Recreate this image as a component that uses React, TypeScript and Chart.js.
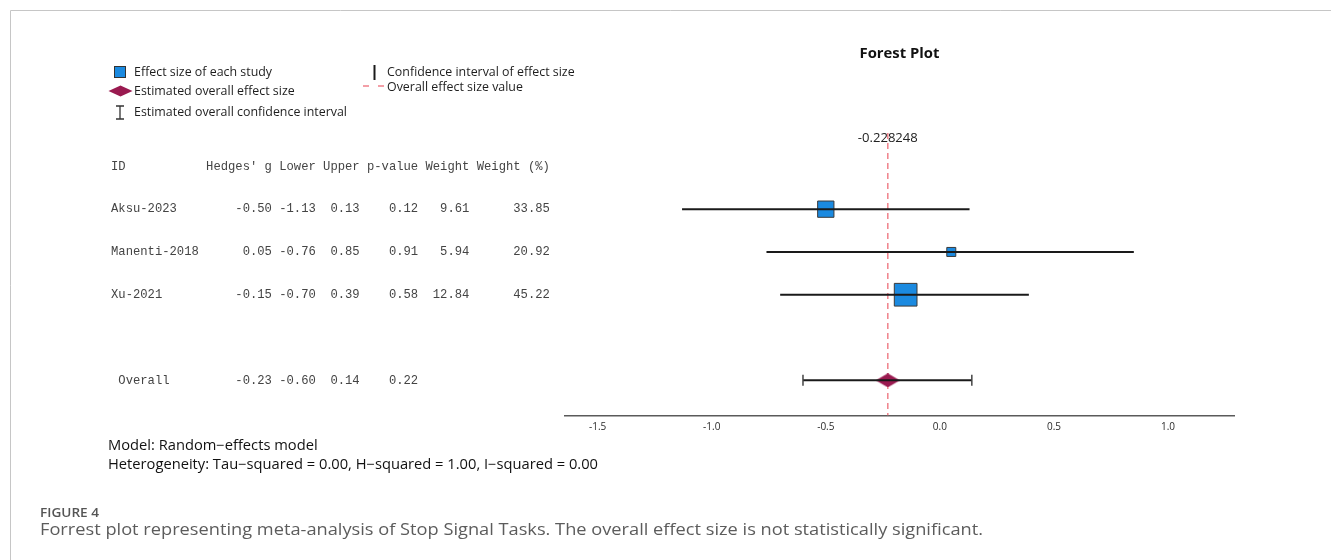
import React, { useEffect, useRef } from 'react';
import { Chart, registerables } from 'chart.js';

Chart.register(...registerables);

// ---------- data ----------
const STUDIES = ['Aksu-2023', 'Manenti-2018', 'Xu-2021'];
const HEDGES_G = [-0.5, 0.05, -0.15];
const LOWER = [-1.13, -0.76, -0.7];
const UPPER = [0.13, 0.85, 0.39];
const P_VALUES = [0.12, 0.91, 0.58];
const WEIGHTS = [9.61, 5.94, 12.84];
const WEIGHT_PCT = [33.85, 20.92, 45.22];
const OVERALL_LABEL = 'Overall';
const OVERALL_G = -0.228248;
const OVERALL_LOWER = -0.6;
const OVERALL_UPPER = 0.14;
const OVERALL_P = 0.22;
const X_TICKS = [-1.5, -1.0, -0.5, 0.0, 0.5, 1.0];
const TABLE_HEADER = ['ID', "Hedges' g", 'Lower', 'Upper', 'p-value', 'Weight', 'Weight (%)'];

// ---------- layout (rows on the y scale) ----------
const HEADER_ROW = -1;
const OVERALL_ROW = 4;
const Y_MIN = -1.78;
const Y_MAX = 4.82;
const X_MIN = -1.643;
const X_MAX = 1.289;

const BLUE = '#1b8ae0';
const MAROON = '#9a1a50';
const RED_DASH = '#f0808a';

function makeDiamond(w: number, h: number, color: string) {
  const c = document.createElement('canvas');
  c.width = w;
  c.height = h;
  const g = c.getContext('2d')!;
  g.fillStyle = color;
  g.beginPath();
  g.moveTo(0, h / 2);
  g.lineTo(w / 2, 0);
  g.lineTo(w, h / 2);
  g.lineTo(w / 2, h);
  g.closePath();
  g.fill();
  return c;
}

function measure(ctx: CanvasRenderingContext2D, font: string, s: string) {
  ctx.save();
  ctx.font = font;
  const w = ctx.measureText(s).width;
  ctx.restore();
  return w;
}

function txt(
  ctx: CanvasRenderingContext2D,
  s: string,
  x: number,
  y: number,
  font: string,
  color: string,
  align: CanvasTextAlign = 'left',
  sx = 1
) {
  ctx.save();
  ctx.font = font;
  ctx.fillStyle = color;
  ctx.textBaseline = 'middle';
  ctx.textAlign = align;
  ctx.translate(x, y);
  ctx.scale(sx, 1);
  ctx.fillText(s, 0, 0);
  ctx.restore();
}

const f2 = (v: number) => v.toFixed(2);

const decorPlugin = {
  id: 'forestDecor',
  beforeDatasetsDraw(chart: any) {
    const ctx: CanvasRenderingContext2D = chart.ctx;
    const xs = chart.scales.x;
    const ys = chart.scales.y;

    // frame
    ctx.save();
    ctx.strokeStyle = '#c6c6c6';
    ctx.lineWidth = 1;
    ctx.beginPath();
    ctx.moveTo(10.5, 560);
    ctx.lineTo(10.5, 10.5);
    ctx.lineTo(1331, 10.5);
    ctx.stroke();
    ctx.restore();

    // legend
    const lf = "12.5px 'Open Sans'";
    const lsx = 213 / measure(ctx, lf, 'Estimated overall confidence interval');
    const lc = '#1e1e1e';
    ctx.save();
    ctx.fillStyle = BLUE;
    ctx.strokeStyle = '#333';
    ctx.lineWidth = 1;
    ctx.fillRect(114.5, 66.5, 11, 11);
    ctx.strokeRect(114.5, 66.5, 11, 11);
    ctx.fillStyle = MAROON;
    ctx.beginPath();
    ctx.moveTo(108.5, 91);
    ctx.lineTo(120.5, 85.5);
    ctx.lineTo(132.5, 91);
    ctx.lineTo(120.5, 96.5);
    ctx.closePath();
    ctx.fill();
    ctx.strokeStyle = '#333';
    ctx.lineWidth = 1.3;
    ctx.beginPath();
    ctx.moveTo(120, 106);
    ctx.lineTo(120, 119);
    ctx.moveTo(116, 106);
    ctx.lineTo(124, 106);
    ctx.moveTo(116, 119);
    ctx.lineTo(124, 119);
    ctx.stroke();
    ctx.strokeStyle = '#1a1a1a';
    ctx.lineWidth = 2;
    ctx.beginPath();
    ctx.moveTo(374.5, 65);
    ctx.lineTo(374.5, 80);
    ctx.stroke();
    ctx.strokeStyle = RED_DASH;
    ctx.lineWidth = 1.5;
    ctx.beginPath();
    ctx.moveTo(363, 86);
    ctx.lineTo(369, 86);
    ctx.moveTo(378, 86);
    ctx.lineTo(384, 86);
    ctx.stroke();
    ctx.restore();
    txt(ctx, 'Effect size of each study', 134, 72, lf, lc, 'left', lsx);
    txt(ctx, 'Estimated overall effect size', 134, 91, lf, lc, 'left', lsx);
    txt(ctx, 'Estimated overall confidence interval', 134, 112, lf, lc, 'left', lsx);
    txt(ctx, 'Confidence interval of effect size', 387, 72, lf, lc, 'left', lsx);
    txt(ctx, 'Overall effect size value', 387, 87, lf, lc, 'left', lsx);

    // title
    const tf = "bold 15px 'Open Sans'";
    const tsx = 80 / measure(ctx, tf, 'Forest Plot');
    txt(ctx, 'Forest Plot', (chart.chartArea.left + chart.chartArea.right) / 2, 54, tf, '#111', 'center', tsx);

    // overall value label
    const vf = "12px 'Open Sans'";
    const vs = String(OVERALL_G);
    const vsx = 60 / measure(ctx, vf, vs);
    txt(ctx, vs, xs.getPixelForValue(OVERALL_G), 139, vf, '#222', 'center', vsx);

    // table
    const mf = "12.2px 'Liberation Mono'";
    const mc = '#444';
    const x0 = 111;
    const header =
      TABLE_HEADER[0].padEnd(13) + TABLE_HEADER.slice(1).join(' ');
    txt(ctx, header, x0, ys.getPixelForValue(HEADER_ROW), mf, mc);
    STUDIES.forEach((s, i) => {
      const line =
        s.padEnd(13) +
        f2(HEDGES_G[i]).padStart(9) +
        ' ' +
        f2(LOWER[i]).padStart(5) +
        ' ' +
        f2(UPPER[i]).padStart(5) +
        ' ' +
        f2(P_VALUES[i]).padStart(7) +
        ' ' +
        f2(WEIGHTS[i]).padStart(6) +
        ' ' +
        f2(WEIGHT_PCT[i]).padStart(10);
      txt(ctx, line, x0, ys.getPixelForValue(i), mf, mc);
    });
    const oline =
      (' ' + OVERALL_LABEL).padEnd(13) +
      f2(OVERALL_G).padStart(9) +
      ' ' +
      f2(OVERALL_LOWER).padStart(5) +
      ' ' +
      f2(OVERALL_UPPER).padStart(5) +
      ' ' +
      f2(OVERALL_P).padStart(7);
    txt(ctx, oline, x0, ys.getPixelForValue(OVERALL_ROW), mf, mc);

    // model text
    const hf = "14px 'Open Sans'";
    const het = 'Heterogeneity: Tau\u2212squared = 0.00, H\u2212squared = 1.00, I\u2212squared = 0.00';
    const hsx = 490 / measure(ctx, hf, het);
    txt(ctx, 'Model: Random\u2212effects model', 108, 446, hf, '#111', 'left', hsx);
    txt(ctx, het, 108, 465, hf, '#111', 'left', hsx);

    // caption
    const ff = "600 12px 'Open Sans'";
    const fsx = 59 / measure(ctx, ff, 'FIGURE 4');
    txt(ctx, 'FIGURE 4', 40, 514, ff, '#555', 'left', fsx);
    const cf = "16px 'Open Sans'";
    const cap =
      'Forrest plot representing meta-analysis of Stop Signal Tasks. The overall effect size is not statistically significant.';
    const csx = 943 / measure(ctx, cf, cap);
    txt(ctx, cap, 40, 530, cf, '#5c5c5c', 'left', csx);
  },
};

export default function App() {
  const ref = useRef<HTMLCanvasElement | null>(null);

  useEffect(() => {
    if (!ref.current) return;
    const diamond = makeDiamond(24, 14, MAROON);

    const ciSets = STUDIES.map((s, i) => ({
      label: s + ' CI',
      data: [
        { x: LOWER[i], y: i },
        { x: UPPER[i], y: i },
      ],
      showLine: true,
      borderColor: '#1a1a1a',
      borderWidth: 2,
      pointRadius: 0,
      order: 0,
    }));

    const chart = new Chart(ref.current, {
      type: 'scatter',
      data: {
        datasets: [
          ...ciSets,
          {
            label: 'Overall CI',
            data: [
              { x: OVERALL_LOWER, y: OVERALL_ROW },
              { x: OVERALL_UPPER, y: OVERALL_ROW },
            ],
            showLine: true,
            borderColor: '#1a1a1a',
            borderWidth: 2,
            pointStyle: 'line',
            rotation: 90,
            pointRadius: 5.5,
            pointBorderColor: '#444',
            pointBorderWidth: 1.5,
            order: 0,
          },
          {
            label: 'Effect size',
            data: HEDGES_G.map((g, i) => ({ x: g, y: i })),
            pointStyle: 'rect',
            pointRadius: WEIGHT_PCT.map((w) => (0.564 * w - 2.8) / Math.SQRT2),
            backgroundColor: BLUE,
            borderColor: '#3a3a3a',
            borderWidth: 1,
            order: 1,
          },
          {
            label: 'Overall effect',
            data: [{ x: OVERALL_G, y: OVERALL_ROW }],
            pointStyle: diamond,
            pointRadius: 6,
            order: 1,
          },
          {
            label: 'Overall value',
            data: [
              { x: OVERALL_G, y: Y_MIN },
              { x: OVERALL_G, y: Y_MAX },
            ],
            showLine: true,
            borderColor: RED_DASH,
            borderWidth: 1.5,
            borderDash: [6, 4],
            pointRadius: 0,
            order: 2,
          },
        ] as any,
      },
      options: {
        responsive: false,
        animation: false,
        events: [],
        layout: { padding: { left: 565, right: 97, top: 133, bottom: 120.6 } },
        plugins: {
          legend: { display: false },
          tooltip: { enabled: false },
          title: { display: false },
        },
        scales: {
          x: {
            type: 'linear',
            min: X_MIN,
            max: X_MAX,
            afterBuildTicks: (scale: any) => {
              scale.ticks = X_TICKS.map((v) => ({ value: v }));
            },
            grid: { display: false, drawTicks: false },
            border: { display: true, color: '#5a5a5a', width: 1.5 },
            ticks: {
              padding: 6,
              color: '#2a2a2a',
              font: { family: "'Open Sans'", size: 10 },
              callback: (v: any) => Number(v).toFixed(1),
            },
          },
          y: {
            type: 'linear',
            display: false,
            reverse: true,
            min: Y_MIN,
            max: Y_MAX,
          },
        },
      } as any,
      plugins: [decorPlugin],
    });
    return () => chart.destroy();
  }, []);

  return (
    <div style={{ position: 'absolute', left: 0, top: 0, width: 1331, height: 560, background: '#fff' }}>
      <canvas ref={ref} width={1331} height={560} style={{ display: 'block' }} />
    </div>
  );
}
